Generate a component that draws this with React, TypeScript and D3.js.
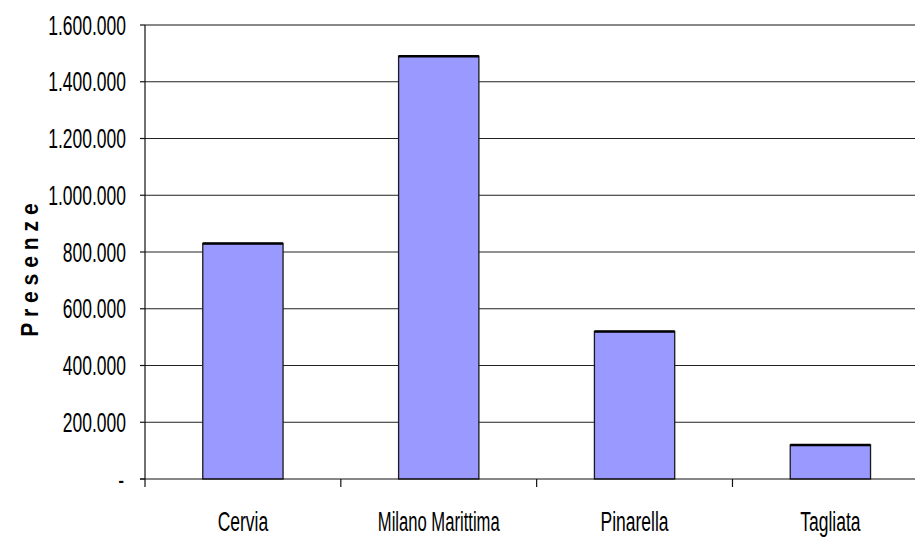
import React from "react";
import * as d3 from "d3";

// Presenze per località
const categories = ["Cervia", "Milano Marittima", "Pinarella", "Tagliata"];
const presenze = [830000, 1490000, 520000, 120000];
const yTicks = [0, 200000, 400000, 600000, 800000, 1000000, 1200000, 1400000, 1600000];
const yTitle = "P r e s e n z e";

const W = 915;
const H = 539;
const left = 145;
const top = 25;
const bottom = 479;
const right = 928.3;

const FONT = "'Liberation Sans', Arial, 'DejaVu Sans', sans-serif";
const SY = 1.55; // vertical stretch of the label glyphs
const FS = 17.5;

const itLocale = d3.formatLocale({
  decimal: ",",
  thousands: ".",
  grouping: [3],
  currency: ["€", ""],
});
const fmt = itLocale.format(",.0f");
const tickLabel = (v: number) => (v === 0 ? "-" : fmt(v));

export default function App() {
  const x = d3
    .scaleBand<string>()
    .domain(categories)
    .range([left, right])
    .paddingInner(0.59)
    .paddingOuter(0.295);
  const y = d3.scaleLinear().domain([0, 1600000]).range([bottom, top]);
  const step = x.step();

  return (
    <svg
      width={W}
      height={H}
      style={{ position: "absolute", left: 0, top: 0, background: "#fff" }}
    >
      <rect x={0} y={0} width={W} height={H} fill="#fff" />

      {/* horizontal gridlines */}
      {yTicks.slice(1, -1).map((t) => (
        <line
          key={"g" + t}
          x1={left}
          x2={W}
          y1={y(t)}
          y2={y(t)}
          stroke="#222"
          strokeWidth={1}
        />
      ))}
      {/* plot area top border */}
      <line x1={left} x2={W} y1={y(1600000)} y2={y(1600000)} stroke="#888" strokeWidth={2} />

      {/* bars */}
      {categories.map((c, i) => {
        const bx = x(c)!;
        const by = y(presenze[i]);
        return (
          <g key={c}>
            <rect
              x={bx}
              y={by}
              width={x.bandwidth()}
              height={bottom - by}
              fill="#9999FF"
              stroke="#1a1a1a"
              strokeWidth={1.3}
            />
            <line x1={bx} x2={bx + x.bandwidth()} y1={by} y2={by} stroke="#000" strokeWidth={2.4} />
          </g>
        );
      })}

      {/* axes */}
      <line x1={left} x2={left} y1={top} y2={bottom} stroke="#111" strokeWidth={1.2} />
      <line x1={left - 5} x2={W} y1={bottom} y2={bottom} stroke="#111" strokeWidth={1.2} />

      {/* y ticks and labels */}
      {yTicks.map((t) => (
        <g key={"t" + t}>
          <line x1={left - 5} x2={left} y1={y(t)} y2={y(t)} stroke="#111" strokeWidth={1.2} />
          <text
            transform={`translate(${t === 0 ? 124 : 126},${y(t) + 9.5}) scale(1,${SY})`}
            textAnchor="end"
            fontFamily={FONT}
            fontSize={FS}
            fill="#000"
          >
            {tickLabel(t)}
          </text>
        </g>
      ))}

      {/* category ticks */}
      {categories.map((c, i) => {
        const tx = left + step * i;
        return (
          <line key={"ct" + c} x1={tx} x2={tx} y1={bottom} y2={bottom + 8} stroke="#111" strokeWidth={1.2} />
        );
      })}

      {/* category labels */}
      {categories.map((c) => (
        <text
          key={"cl" + c}
          transform={`translate(${x(c)! + x.bandwidth() / 2},531) scale(${c.length > 10 ? 0.95 : 1},${SY})`}
          textAnchor="middle"
          fontFamily={FONT}
          fontSize={FS}
          fill="#000"
        >
          {c}
        </text>
      ))}

      {/* y axis title */}
      <text
        transform={`translate(38,270) rotate(-90) scale(0.88,1)`}
        textAnchor="middle"
        fontFamily={FONT}
        fontSize={24}
        fontWeight="bold"
        fill="#000"
      >
        {yTitle}
      </text>
    </svg>
  );
}
